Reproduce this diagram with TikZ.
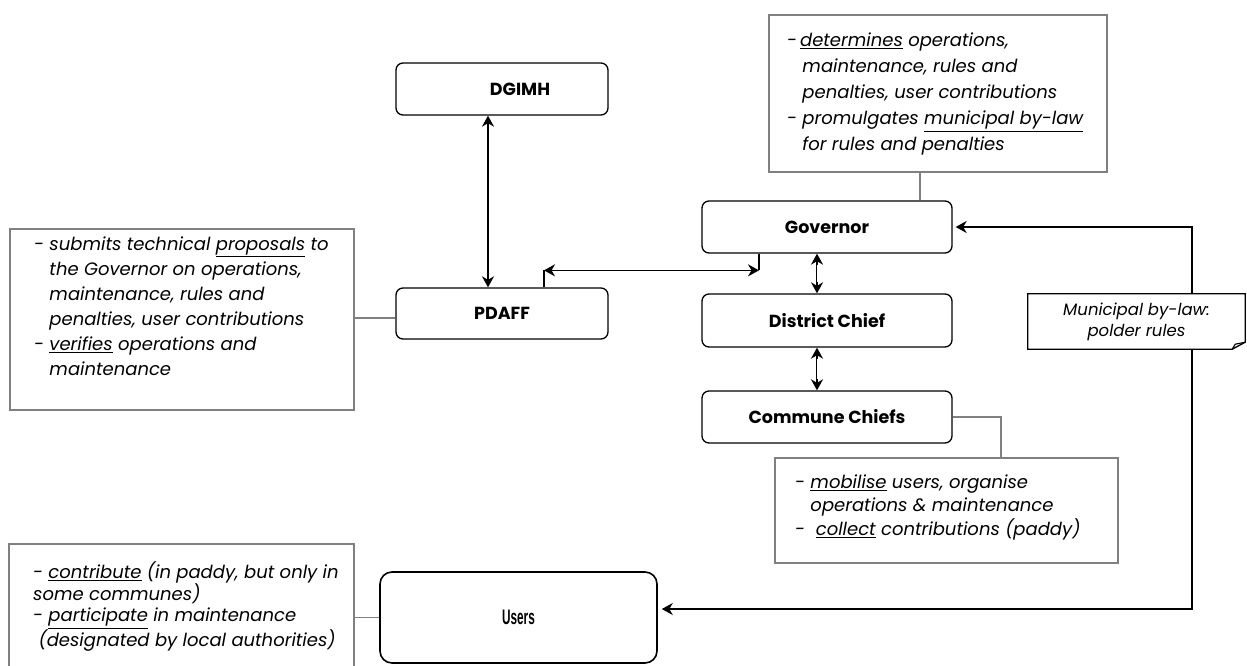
\documentclass[tikz,border=0pt]{standalone}
\usepackage{fontspec}
\usepackage{graphicx}
\setmainfont{Poppins}
\newfontfamily\labelfont{Liberation Sans}
\usetikzlibrary{arrows.meta,calc}

\definecolor{notegray}{RGB}{128,128,128}

\tikzset{
  unit/.style={draw=black, line width=1.3pt, rounded corners=7pt, fill=white,
    font=\fontsize{17.5}{20}\selectfont\bfseries, inner sep=0pt},
  notebox/.style={draw=notegray, line width=1.3pt, fill=white, inner sep=0pt},
  notetext/.style={anchor=north west, align=left, inner sep=0pt,
    font=\fontsize{18}{25}\selectfont\itshape},
  link/.style={draw=notegray, line width=1.3pt},
  flow/.style={draw=black, line width=1.6pt},
  twin/.style={draw=black, line width=2.6pt},
  twincore/.style={draw=white, line width=0.7pt, shorten <=11pt, shorten >=11pt},
  >={Stealth[length=11pt,width=12pt,inset=3.5pt]}
}
\newcommand{\hang}{\phantom{- }}

\begin{document}
\begin{tikzpicture}[x=1pt,y=-1pt]
\useasboundingbox[fill=white] (0,0) rectangle (1247,666);

% organisations
\node[unit, minimum width=212pt, minimum height=52pt] (dgimh) at (502,89) {\hspace*{36pt}DGIMH};
\node[unit, minimum width=212pt, minimum height=51pt] (pdaff) at (502,313.5) {PDAFF};
\node[unit, minimum width=250pt, minimum height=52pt] (gov) at (827,227) {Governor};
\node[unit, minimum width=250pt, minimum height=53pt] (district) at (827,320.5) {District Chief};
\node[unit, minimum width=250pt, minimum height=52pt] (commune) at (827,417) {Commune Chiefs};
\node[unit, line width=1.6pt, rounded corners=12pt, minimum width=277pt, minimum height=91pt,
  font=\labelfont\fontsize{21}{24}\selectfont\bfseries] (users) at (518.5,617.5)
  {\raisebox{-8pt}{\scalebox{0.56}[1]{Users}}};

% role notes
\node[notebox, minimum width=338pt, minimum height=157pt] (govnote) at (938,93.5) {};
\node[notetext, font=\fontsize{18}{26}\selectfont\itshape] (govtext) at (787,33) {-\,\underline{determines} operations,\\
\hang maintenance, rules and\\
\hang penalties, user contributions\\
- promulgates \underline{municipal by-law}\\
\hang for rules and penalties};

\node[notebox, minimum width=344pt, minimum height=181pt] (pdnote) at (182,319.5) {};
\node[notetext] (pdtext) at (34,236.5) {- submits technical \underline{proposals} to\\
\hang the Governor on operations,\\
\hang maintenance, rules and\\
\hang penalties, user contributions\\
- \underline{verifies} operations and\\
\hang maintenance};

\node[notebox, minimum width=343pt, minimum height=105pt] (cnote) at (946.5,510.5) {};
\node[notetext, font=\fontsize{18}{23.5}\selectfont\itshape] (ctext) at (795,474.5) {- \underline{mobilise} users, organise\\
\hang operations \& maintenance\\
-\ \ \underline{collect} contributions (paddy)};

\node[notebox, minimum width=345pt, minimum height=146pt] (unote) at (181.5,617) {};
\node[notetext, font=\fontsize{18}{21.7}\selectfont\itshape] (utext) at (33,561.5) {- \underline{contribute} (in paddy, but only in\\
some communes)\\
- \underline{participate} in maintenance\\
\ (designated by local authorities)};

% hierarchy arrows
\draw[flow,<->] ([xshift=-14pt]dgimh.south) -- ([xshift=-14pt]pdaff.north);
\draw[twin,<->] ([xshift=-10pt]gov.south) -- ([xshift=-10pt]district.north);
\draw[twincore] ([xshift=-10pt]gov.south) -- ([xshift=-10pt]district.north);
\draw[twin,<->] ([xshift=-10pt]district.south) -- ([xshift=-10pt]commune.north);
\draw[twincore] ([xshift=-10pt]district.south) -- ([xshift=-10pt]commune.north);

% PDAFF - Governor exchange
\coordinate (pdknee) at ([xshift=42pt,yshift=17pt]pdaff.north);
\coordinate (govknee) at ([xshift=-68pt]gov.south |- pdknee);
\draw[flow] ([xshift=42pt]pdaff.north) -- (pdknee);
\draw[flow] ([xshift=-68pt]gov.south) -- (govknee);
\draw[flow,<->] (pdknee) -- (govknee);

% by-law route between Users and Governor
\coordinate (route) at (1192,0);
\draw[flow,<->,shorten <=4pt,shorten >=3pt] ([yshift=8.5pt]users.east) -| (route |- gov.east) -- (gov.east);

\node[inner sep=0pt, minimum width=217pt, minimum height=55pt] (bylaw) at (1136.5,321.5) {};
\filldraw[fill=white, draw=black, line width=1.3pt]
  (bylaw.north west) -- (bylaw.north east) -- ([yshift=7pt]bylaw.south east)
  -- ([xshift=-13pt]bylaw.south east) -- (bylaw.south west) -- cycle;
\draw[black, line width=1.1pt] ([xshift=-13pt]bylaw.south east) -- ([xshift=-10pt,yshift=5pt]bylaw.south east) -- ([yshift=7pt]bylaw.south east);
\node[inner sep=0pt, align=center, font=\fontsize{16.5}{21}\selectfont\itshape] (bylawtext) at (bylaw) {Municipal by-law:\\polder rules};

% note leaders
\draw[link] ([xshift=-18pt]govnote.south) -- ([xshift=-18pt]govnote.south |- gov.north);
\draw[link] ([yshift=-4.5pt]pdaff.west) -- ([yshift=-4.5pt]pdaff.west -| pdnote.east);
\draw[link] (commune.east) -| ([xshift=54.5pt]cnote.north);
\draw[link] (unote.east |- users.west) -- (users.west);
\end{tikzpicture}
\end{document}
